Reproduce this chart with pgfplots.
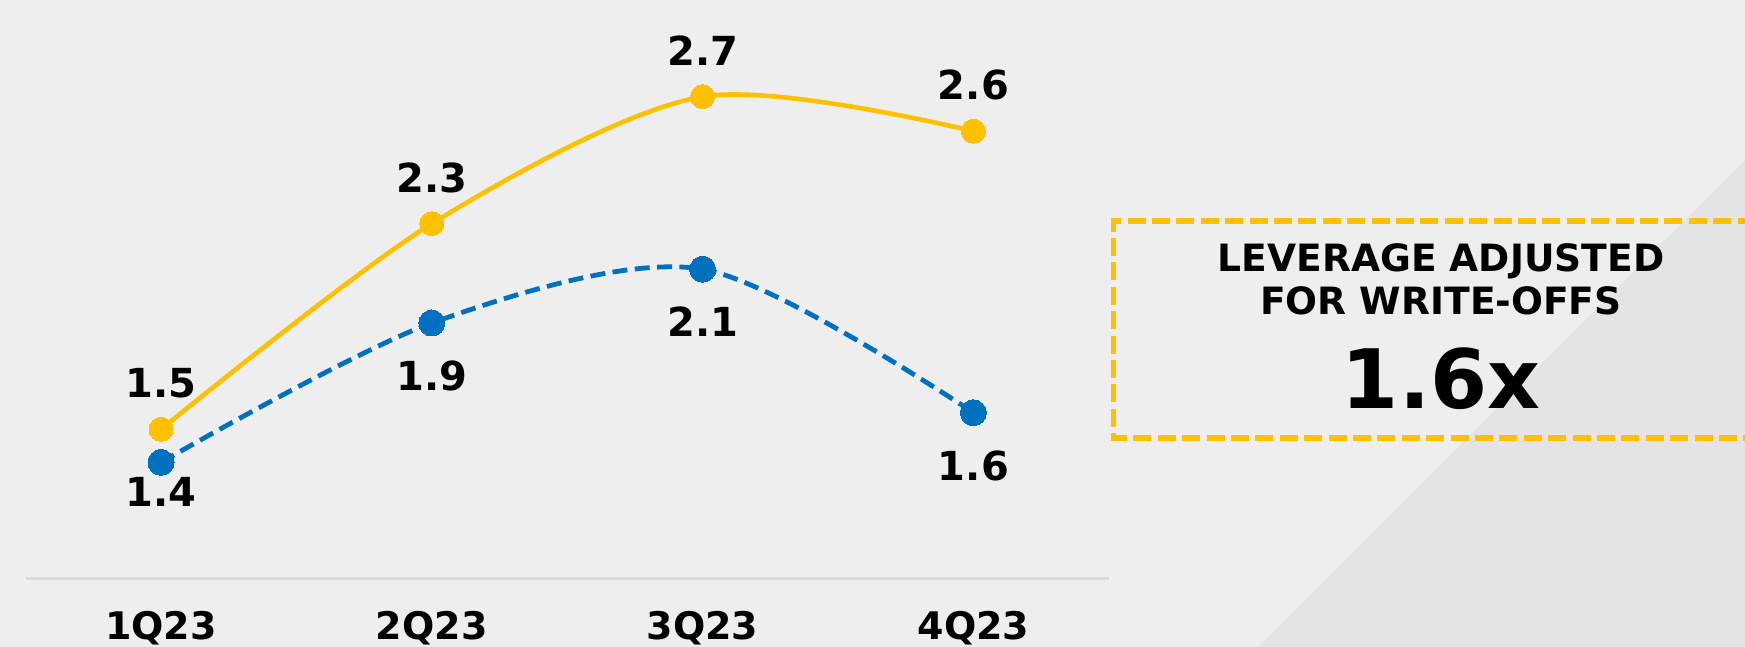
\documentclass[border=0pt]{standalone}
\usepackage{fontspec}
\setmainfont{DejaVu Sans}
\usepackage{pgfplots}
\usepackage{pgfplotstable}
\pgfplotsset{compat=1.18}
\definecolor{bg}{HTML}{EEEEEE}
\definecolor{bgdark}{HTML}{E4E4E4}
\definecolor{gold}{HTML}{FFC000}
\definecolor{blueline}{HTML}{0070C0}
\definecolor{axisgray}{HTML}{DADADA}

\pgfplotstableread{
x y dy
0 1.54 15.8
1 2.285 15.8
2 2.745 15.8
3 2.62 15.8
}\goldtable

\pgfplotstableread{
x y dy
0 1.42 -22.3
1 1.925 -33.8
2 2.12 -33.8
3 1.60 -33.8
}\bluetable

\begin{document}
\begin{tikzpicture}
\useasboundingbox (0,0) rectangle (872.5pt,323.5pt);
\fill[bg] (0,0) rectangle (872.5pt,323.5pt);
\fill[bgdark] (629pt,0) -- (872.5pt,243.5pt) -- (872.5pt,0) -- cycle;
\begin{scope}
\clip (0,0) rectangle (872.5pt,323.5pt);
\draw[gold, line width=2.75pt, dash pattern=on 9pt off 3.2pt]
  (890pt,212.9pt) -- (556.8pt,212.9pt) -- (556.8pt,104.6pt) -- (890pt,104.6pt);
\end{scope}
\node[anchor=base, font=\fontsize{18.8}{20}\selectfont\bfseries] at (720.5pt,187.65pt) {LEVERAGE ADJUSTED};
\node[anchor=base, font=\fontsize{18.8}{20}\selectfont\bfseries] at (720.5pt,166pt) {FOR WRITE-OFFS};
\node[anchor=base, font=\fontsize{41}{44}\selectfont\bfseries] at (720.5pt,119.35pt) {1.6x};

\begin{axis}[
  at={(12.8pt,34.35pt)}, anchor=south west,
  scale only axis, width=541.6pt, height=282.9pt,
  xmin=-0.5, xmax=3.5, ymin=1, ymax=3.05,
  clip=false,
  axis x line*=bottom, axis y line=none,
  x axis line style={draw=axisgray, line width=1.6pt, -},
  xtick={0,1,2,3}, xticklabels={1Q23,2Q23,3Q23,4Q23},
  major tick length=0pt,
  xticklabel style={anchor=base, yshift=-30.85pt, font=\fontsize{19}{20}\selectfont\bfseries},
  ytick=\empty,
  point meta=y,
  nodes near coords={\pgfmathprintnumber[fixed,fixed zerofill,precision=1,assume math mode=true]{\pgfplotspointmeta}},
  visualization depends on={\thisrow{dy} \as \dy},
  nodes near coords style={anchor=base, yshift=\dy pt, text=black, font=\fontsize{20}{22}\selectfont\bfseries},
]
\addplot[smooth, color=gold, line width=2.3pt, mark=*, mark size=6pt, mark options={solid, fill=gold, draw=gold, line width=0pt}]
  table[x=x, y=y] {\goldtable};
\addplot[smooth, color=blueline, line width=2.4pt, dash pattern=on 7.5pt off 3.7pt, mark=*, mark size=6.5pt, mark options={solid, fill=blueline, draw=blueline, line width=0pt}]
  table[x=x, y=y] {\bluetable};
\end{axis}
\end{tikzpicture}
\end{document}
